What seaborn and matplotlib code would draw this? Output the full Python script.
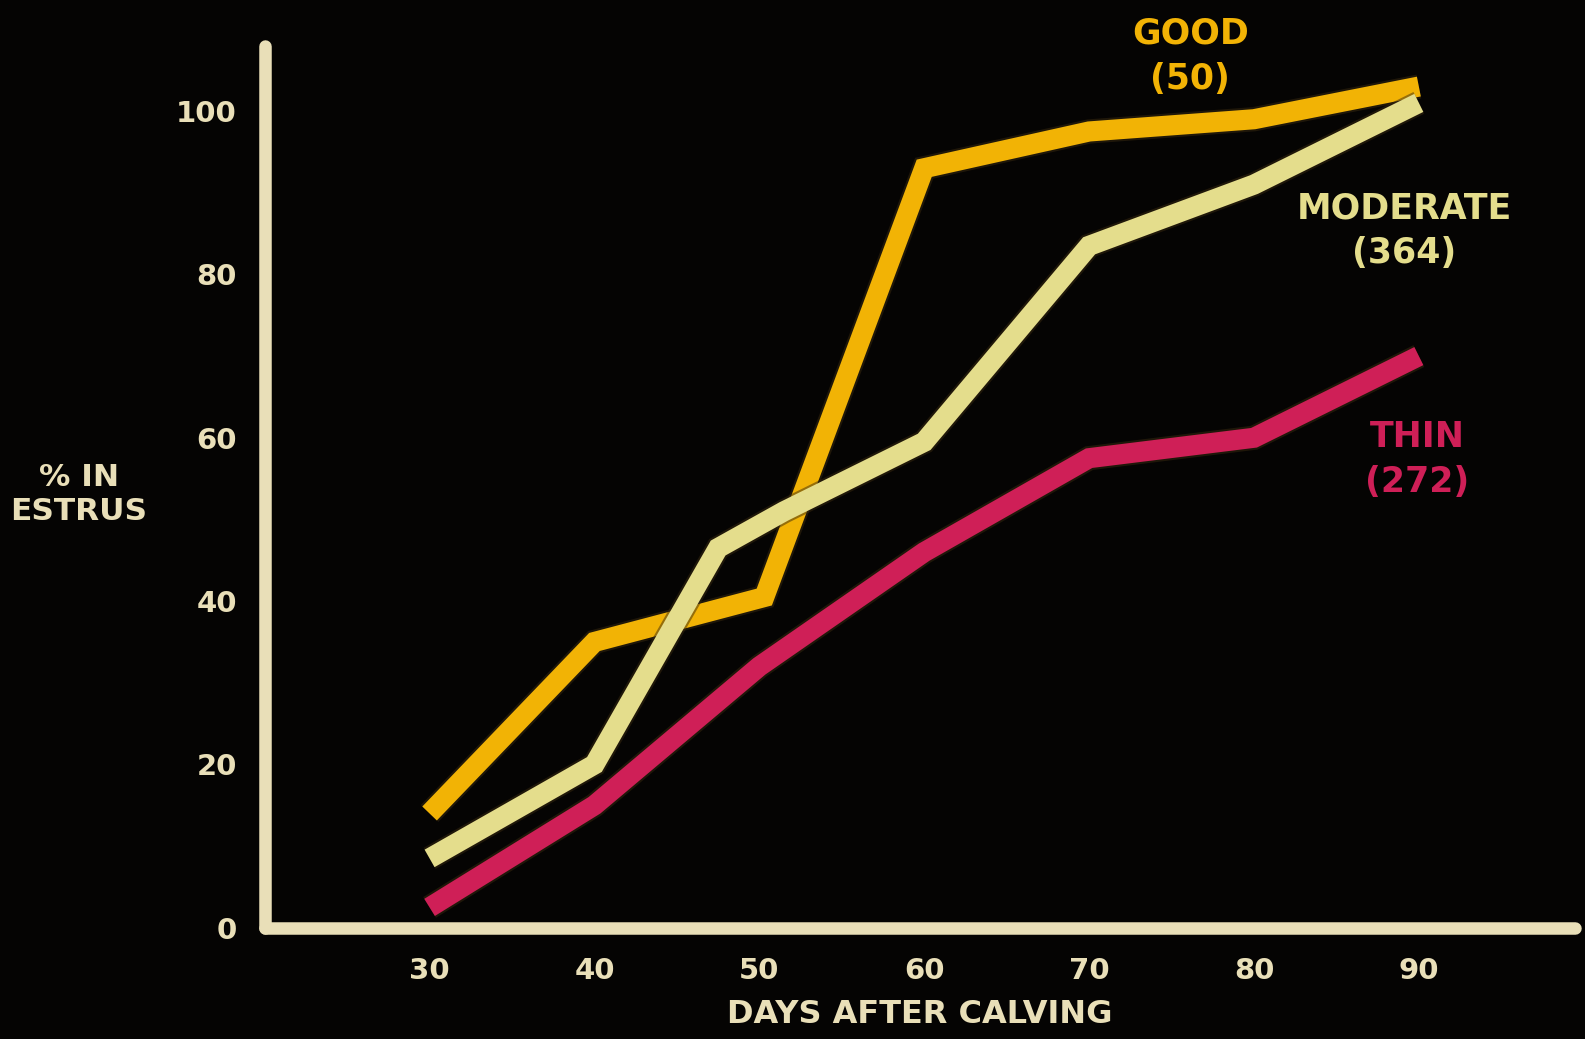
import pandas as pd
import seaborn as sns
import matplotlib.pyplot as plt
import matplotlib.patheffects as pe

# =========================================================
#  Data
# =========================================================
good_days = [30, 40, 50.3, 60, 70, 80, 90]
good_pct = [14, 35, 40.5, 93, 97.5, 99, 103]

moderate_days = [30, 40, 47.5, 51.5, 60, 70, 80, 90]
moderate_pct = [8.5, 20, 46.5, 51, 59.5, 83.5, 91, 101]

thin_days = [30, 40, 50, 60, 70, 80, 90]
thin_pct = [2.5, 15, 32, 46, 57.5, 60, 70]

groups = ['GOOD', 'MODERATE', 'THIN']
group_counts = [50, 364, 272]
x_ticks = [30, 40, 50, 60, 70, 80, 90]
y_ticks = [0, 20, 40, 60, 80, 100]

df = pd.concat([
    pd.DataFrame({'days': good_days, 'pct': good_pct, 'group': 'GOOD'}),
    pd.DataFrame({'days': moderate_days, 'pct': moderate_pct, 'group': 'MODERATE'}),
    pd.DataFrame({'days': thin_days, 'pct': thin_pct, 'group': 'THIN'}),
])

# =========================================================
#  Styling
# =========================================================
bg = '#050403'
cream = '#e9dfb8'
palette = {'GOOD': '#f2b305', 'MODERATE': '#e4dd8c', 'THIN': '#cf1f57'}

sns.set_theme(style="dark", rc={'axes.facecolor': bg, 'figure.facecolor': bg})
plt.rcParams['font.family'] = ['DejaVu Sans']

fig = plt.figure(figsize=(15.85, 10.39), dpi=100)
ax = fig.add_axes([0.167, 0.107, 0.827, 0.849])

sns.lineplot(data=df, x='days', y='pct', hue='group', palette=palette,
             linewidth=14.5, sort=True, estimator=None, legend=False, ax=ax)
glow = [pe.Stroke(linewidth=17.5, foreground='#3a2a10', alpha=0.5), pe.Normal()]
for line in ax.lines:
    line.set_solid_capstyle('butt')
    line.set_solid_joinstyle('miter')
    line.set_path_effects(glow)

ax.set_xlim(20, 99.5)
ax.set_ylim(0, 108)
ax.grid(False)

for side in ['top', 'right']:
    ax.spines[side].set_visible(False)
for side in ['left', 'bottom']:
    ax.spines[side].set_color(cream)
    ax.spines[side].set_linewidth(9)
    ax.spines[side].set_capstyle('round')

ax.set_xticks(x_ticks)
ax.set_yticks(y_ticks)
ax.tick_params(axis='x', length=0, pad=21, labelsize=21, labelcolor=cream)
ax.tick_params(axis='y', length=14, width=3.5, color=cream, pad=6,
               labelsize=21, labelcolor=cream, direction='out')
for lbl in ax.get_xticklabels() + ax.get_yticklabels():
    lbl.set_fontweight('heavy')

ax.set_xlabel('DAYS AFTER CALVING', fontsize=23, fontweight='heavy', color=cream, labelpad=10)
ax.set_ylabel('')
fig.text(0.0497, 0.524, '% IN\nESTRUS', fontsize=22.5, fontweight='heavy', color=cream,
         ha='center', va='center', linespacing=1.2)

# direct labels for each group
label_pos = {'GOOD': (0.751, 0.946), 'MODERATE': (0.886, 0.778), 'THIN': (0.894, 0.558)}
for name, n in zip(groups, group_counts):
    x, y = label_pos[name]
    fig.text(x, y, f'{name}\n({n})', fontsize=25, fontweight='heavy', color=palette[name],
             ha='center', va='center', linespacing=1.4)

plt.savefig('out.png', dpi=100, facecolor=bg)
